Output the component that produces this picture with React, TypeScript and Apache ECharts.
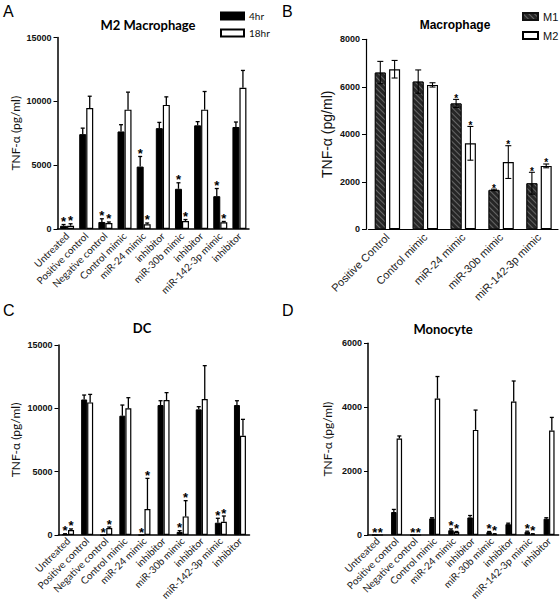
import React, { useEffect, useRef } from 'react';
import * as echarts from 'echarts';

// ---------- data ----------
const categoriesACD = ['Untreated', 'Positive control', 'Negative control', 'Control mimic', 'miR-24 mimic', 'inhibitor', 'miR-30b mimic', 'inhibitor', 'miR-142-3p mimic', 'inhibitor'];
const categoriesB = ['Positive Control', 'Control mimic', 'miR-24 mimic', 'miR-30b mimic', 'miR-142-3p mimic'];

// Panel A: M2 Macrophage
const a4hr = [250, 7430, 550, 7640, 4890, 7900, 3150, 8120, 2570, 7990];
const a4hrErr = [100, 470, 250, 530, 790, 450, 470, 290, 600, 390];
const a18hr = [260, 9480, 470, 9350, 370, 9720, 630, 9350, 530, 11060];
const a18hrErr = [150, 920, 80, 1370, 100, 630, 110, 1420, 60, 1360];

// Panel B: Macrophage
const bM1 = [6600, 6220, 5300, 1660, 1940];
const bM1Err = [470, 490, 170, 30, 460];
const bM2 = [6740, 6080, 3620, 2830, 2670];
const bM2Err = [370, 90, 710, 690, 80];

// Panel C: DC
const c4hr = [60, 10700, 0, 9420, 0, 10260, 240, 9920, 970, 10260];
const c4hrErr = [40, 350, 0, 840, 0, 340, 100, 210, 350, 340];
const c18hr = [400, 10470, 550, 10000, 2050, 10660, 1470, 10740, 1050, 7840];
const c18hrErr = [80, 630, 80, 840, 2420, 580, 1240, 2630, 450, 1290];

// Panel D: Monocyte
const d4hr = [0, 720, 0, 520, 150, 550, 90, 340, 100, 510];
const d4hrErr = [0, 80, 0, 20, 40, 60, 20, 30, 20, 30];
const d18hr = [0, 3020, 0, 4270, 90, 3290, 30, 4180, 30, 3270];
const d18hrErr = [0, 80, 0, 690, 20, 620, 10, 640, 10, 410];

// significance markers
const starsACD = [1, 0, 1, 0, 1, 0, 1, 0, 1, 0];
const starsB = [0, 0, 1, 1, 1];

// y axis ranges [max, interval]
const yRangeA = [15000, 5000];
const yRangeB = [8000, 2000];
const yRangeC = [15000, 5000];
const yRangeD = [6000, 2000];

const panelTitles = ['M2 Macrophage', 'Macrophage', 'DC', 'Monocyte'];
const panelLetters = ['A', 'B', 'C', 'D'];
const legendACD = ['4hr', '18hr'];
const legendB = ['M1', 'M2'];
const yName = 'TNF-α (pg/ml)';

// ---------- helpers ----------
const SANS = 'Liberation Sans, Arial, sans-serif';
const HUM = 'Lato, Open Sans, sans-serif';

function errSeries(
  name: string, idx: number, values: number[], errs: number[], stars: number[],
  offset: number, both: boolean, capW: number, starSize: number, starWeight: string, starDy: number
) {
  return {
    type: 'custom',
    name,
    xAxisIndex: idx,
    yAxisIndex: idx,
    z: 5,
    silent: true,
    itemStyle: { color: '#000' },
    data: values.map((v, i) => [i, v, errs[i], stars[i]]),
    renderItem: (_p: any, api: any) => {
      const i = api.value(0);
      const v = api.value(1);
      const e = api.value(2);
      const s = api.value(3);
      const c = api.coord([i, v]);
      const x = c[0] + offset;
      const yTop = api.coord([i, v + e])[1];
      const yBot = both ? api.coord([i, Math.max(0, v - e)])[1] : c[1];
      const stroke = { stroke: '#000', lineWidth: both ? 1.1 : 1.3 };
      const children: any[] = [];
      if (e > 0) {
        children.push({ type: 'line', shape: { x1: x, y1: yBot, x2: x, y2: yTop }, style: stroke });
        children.push({ type: 'line', shape: { x1: x - capW / 2, y1: yTop, x2: x + capW / 2, y2: yTop }, style: stroke });
        if (both) {
          children.push({ type: 'line', shape: { x1: x - capW / 2, y1: yBot, x2: x + capW / 2, y2: yBot }, style: stroke });
        }
      }
      if (s) {
        children.push({
          type: 'text',
          style: {
            text: '*', x, y: yTop - starDy, align: 'center', verticalAlign: 'middle',
            fontSize: starSize, fontWeight: starWeight, fontFamily: SANS, fill: '#000'
          }
        });
      }
      return { type: 'group', children };
    }
  };
}

function xAxisFor(idx: number, cats: string[], font: string, size: number, lineW: number, margin: number) {
  return {
    type: 'category', gridIndex: idx, data: cats,
    axisLine: { lineStyle: { color: '#000', width: lineW } },
    axisTick: { alignWithLabel: true, length: 4, lineStyle: { color: '#000', width: 1 } },
    axisLabel: { interval: 0, rotate: 45, margin, fontSize: size, fontFamily: font, color: '#222' },
    splitLine: { show: false }
  };
}

function yAxisFor(idx: number, range: number[], nameFont: string, nameSize: number, nameGap: number, lineW: number, offset: number) {
  return {
    type: 'value', gridIndex: idx, min: 0, max: range[0], interval: range[1], offset,
    name: yName, nameLocation: 'middle', nameGap, nameRotate: 90,
    nameTextStyle: { fontFamily: nameFont, fontSize: nameSize, color: '#111' },
    axisLine: { show: true, lineStyle: { color: '#000', width: lineW } },
    axisTick: { show: true, length: 4, lineStyle: { color: '#000', width: 1 } },
    axisLabel: {
      margin: 6, fontSize: 9, fontWeight: 'bold', fontFamily: SANS, color: '#111',
      formatter: (v: number) => String(v)
    },
    splitLine: { show: false }
  };
}

const blackBar = { color: '#000', borderColor: '#000', borderWidth: 1 };
const whiteBar = { color: '#fff', borderColor: '#000', borderWidth: 1.2 };
const hatchBar = {
  color: '#262626', borderColor: '#111', borderWidth: 1,
  decal: {
    symbol: 'rect', symbolSize: 1, color: 'rgba(130,130,130,0.7)',
    dashArrayX: [1, 0], dashArrayY: [1, 2.5], rotation: Math.PI / 4
  }
};

function barPair(idx: number, names: string[], v0: number[], v1: number[], st0: any, st1: any, width: number, gap: string) {
  return [
    { type: 'bar', name: names[0], xAxisIndex: idx, yAxisIndex: idx, data: v0, barWidth: width, barGap: gap, itemStyle: st0, silent: true },
    { type: 'bar', name: names[1], xAxisIndex: idx, yAxisIndex: idx, data: v1, barWidth: width, barGap: gap, itemStyle: st1, silent: true }
  ];
}

export default function App() {
  const ref = useRef<HTMLDivElement>(null);
  useEffect(() => {
    document.body.style.margin = '0';
    if (!ref.current) return;
    const chart = echarts.init(ref.current, null, { renderer: 'svg' });

    const wA = 7, wB = 11, wC = 6, wD = 5.5;
    const offB = wB / 2 + (wB * 0.3) / 2;

    const option: any = {
      animation: false,
      backgroundColor: '#fff',
      grid: [
        { left: 57.5, top: 37.5, width: 191.5, height: 191.5, outerBoundsMode: 'none', containLabel: false },
        { left: 368.5, top: 39.3, width: 189.5, height: 190, outerBoundsMode: 'none', containLabel: false },
        { left: 58.5, top: 345, width: 191, height: 190, outerBoundsMode: 'none', containLabel: false },
        { left: 368, top: 343.3, width: 190.6, height: 191.7, outerBoundsMode: 'none', containLabel: false }
      ],
      xAxis: [
        xAxisFor(0, categoriesACD, HUM, 10, 1.5, 5),
        xAxisFor(1, categoriesB, SANS, 11, 1.2, 6),
        xAxisFor(2, categoriesACD, HUM, 10, 1.5, 4),
        xAxisFor(3, categoriesACD, HUM, 10, 1.5, 4)
      ],
      yAxis: [
        yAxisFor(0, yRangeA, HUM, 12, 36, 1.5, 0),
        yAxisFor(1, yRangeB, SANS, 14, 32, 1.2, 2.5),
        yAxisFor(2, yRangeC, HUM, 12, 37, 1.5, 0),
        yAxisFor(3, yRangeD, HUM, 12, 35, 1.5, 0)
      ],
      legend: [
        {
          data: legendACD, orient: 'vertical', left: 220, top: 11, itemWidth: 23, itemHeight: 7, itemGap: 7,
          icon: 'rect', selectedMode: false, padding: 0,
          textStyle: { fontFamily: HUM, fontSize: 10, color: '#111' }
        },
        {
          data: legendB, orient: 'vertical', left: 522, top: 11, itemWidth: 15, itemHeight: 7, itemGap: 8,
          icon: 'rect', selectedMode: false, padding: 0,
          textStyle: { fontFamily: SANS, fontSize: 11, color: '#111' }
        }
      ],
      graphic: [
        { type: 'text', left: 3, top: 3, style: { text: panelLetters[0], fontSize: 16, fontFamily: SANS, fill: '#000' } },
        { type: 'text', left: 282, top: 3, style: { text: panelLetters[1], fontSize: 16, fontFamily: SANS, fill: '#000' } },
        { type: 'text', left: 3, top: 302, style: { text: panelLetters[2], fontSize: 16, fontFamily: SANS, fill: '#000' } },
        { type: 'text', left: 282, top: 302, style: { text: panelLetters[3], fontSize: 16, fontFamily: SANS, fill: '#000' } },
        { type: 'text', x: 148, y: 25, style: { text: panelTitles[0], fontSize: 13, fontWeight: 'bold', fontFamily: HUM, fill: '#000', align: 'center', verticalAlign: 'middle' } },
        { type: 'text', x: 455, y: 25, style: { text: panelTitles[1], fontSize: 12, fontWeight: 'bold', fontFamily: SANS, fill: '#000', align: 'center', verticalAlign: 'middle' } },
        { type: 'text', x: 142, y: 328, style: { text: panelTitles[2], fontSize: 13, fontWeight: 'bold', fontFamily: HUM, fill: '#000', align: 'center', verticalAlign: 'middle' } },
        { type: 'text', x: 443, y: 329, style: { text: panelTitles[3], fontSize: 13, fontWeight: 'bold', fontFamily: HUM, fill: '#000', align: 'center', verticalAlign: 'middle' } }
      ],
      series: [
        ...barPair(0, legendACD, a4hr, a18hr, blackBar, whiteBar, wA, '0%'),
        errSeries('errA0', 0, a4hr, a4hrErr, starsACD, -wA / 2, false, 4, 13, 'bold', 3),
        errSeries('errA1', 0, a18hr, a18hrErr, starsACD, wA / 2, false, 4, 13, 'bold', 3),

        ...barPair(1, legendB, bM1, bM2, hatchBar, whiteBar, wB, '30%'),
        errSeries('errB0', 1, bM1, bM1Err, starsB, -offB, true, 6, 10, 'bold', 1),
        errSeries('errB1', 1, bM2, bM2Err, starsB, offB, true, 6, 10, 'bold', 1),

        ...barPair(2, legendACD, c4hr, c18hr, blackBar, whiteBar, wC, '0%'),
        errSeries('errC0', 2, c4hr, c4hrErr, starsACD, -wC / 2, false, 4, 13, 'bold', 3),
        errSeries('errC1', 2, c18hr, c18hrErr, starsACD, wC / 2, false, 4, 13, 'bold', 3),

        ...barPair(3, legendACD, d4hr, d18hr, blackBar, whiteBar, wD, '0%'),
        errSeries('errD0', 3, d4hr, d4hrErr, starsACD, -wD / 2, false, 4, 13, 'bold', 3),
        errSeries('errD1', 3, d18hr, d18hrErr, starsACD, wD / 2, false, 4, 13, 'bold', 3)
      ]
    };

    chart.setOption(option);
    return () => chart.dispose();
  }, []);

  return <div ref={ref} style={{ width: 560, height: 600 }} />;
}
